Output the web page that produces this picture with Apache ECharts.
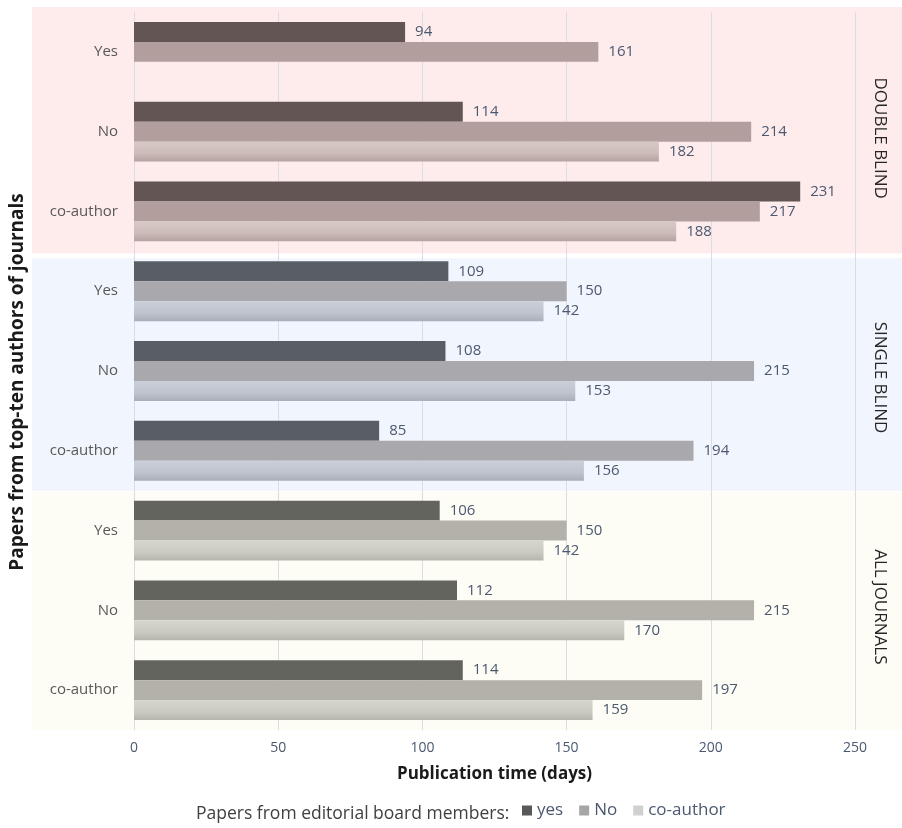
<!DOCTYPE html>
<html>
<head>
<meta charset="utf-8">
<script src="https://cdn.jsdelivr.net/npm/echarts@6/dist/echarts.min.js"></script>
<style>
  html, body { margin: 0; padding: 0; background: #ffffff; }
  #chart { width: 902px; height: 828px; }
</style>
</head>
<body>
<div id="chart"></div>
<script>
// Review types (one panel each) and the author groups inside every panel
const panels = ['DOUBLE BLIND', 'SINGLE BLIND', 'ALL JOURNALS'];
const groups = ['Yes', 'No', 'co-author'];

// Legend entries: papers from editorial board members
const seriesNames = ['yes', 'No', 'co-author'];

// Publication time in days, panel by panel (Yes, No, co-author)
const yesValues      = [94, 114, 231,   109, 108, 85,   106, 112, 114];
const noValues       = [161, 214, 217,  150, 215, 194,  150, 215, 197];
const coAuthorValues = [null, 182, 188, 142, 153, 156,  142, 170, 159];

// Value axis ticks
const xMin = 0, xMax = 250, xStep = 50;

// Styling
const panelFills = ['#fdeceb', '#f1f5fd', '#fdfdf6'];
const legendColors = ['#595959', '#a6a6a6', '#d0d0d0'];
const barPalettes = [
  { dark: '#635553', mid: '#b29f9d', light: ['#d8c9c7', '#cbbab8', '#b4a2a0'] },
  { dark: '#595d66', mid: '#a9a8ad', light: ['#cbcfd9', '#bfc3cd', '#aaaeb8'] },
  { dark: '#63645d', mid: '#b3b1aa', light: ['#d6d6ce', '#cacac2', '#b5b5ad'] }
];
const panelTitleShift = [8, 3, -4];
const textFont = '"Open Sans", "Noto Sans", sans-serif';

// Category ids keep each panel's rows distinct
const categoryIds = [];
panels.forEach((p, pi) => groups.forEach(g => categoryIds.push(pi + '|' + g)));

function buildData(values, kind) {
  return values.map((v, i) => {
    const pal = barPalettes[Math.floor(i / groups.length)];
    if (v === null) return '-';
    let color;
    if (kind === 'light') {
      color = new echarts.graphic.LinearGradient(0, 0, 0, 1, [
        { offset: 0, color: pal.light[0] },
        { offset: 0.6, color: pal.light[1] },
        { offset: 1, color: pal.light[2] }
      ]);
    } else {
      color = pal[kind];
    }
    return { value: v, itemStyle: { color: color } };
  });
}

const valueLabel = {
  show: true,
  position: 'right',
  distance: 10,
  color: '#4b5870',
  fontSize: 15,
  fontFamily: textFont
};

const chart = echarts.init(document.getElementById('chart'), null, { renderer: 'canvas' });

const option = {
  animation: false,
  backgroundColor: '#ffffff',
  grid: { left: 132, right: 47, top: 12, bottom: 98, containLabel: false },
  xAxis: {
    type: 'value',
    min: xMin, max: xMax, interval: xStep,
    name: 'Publication time (days)',
    nameLocation: 'middle',
    nameGap: 36,
    nameTextStyle: { color: '#1a1a1a', fontSize: 17, fontWeight: 'bold', fontFamily: textFont },
    axisLine: { show: false },
    axisTick: { show: false },
    axisLabel: { color: '#4b5870', fontSize: 14, margin: 11, fontFamily: textFont },
    splitLine: { show: true, lineStyle: { color: '#dcdce4', width: 1 } }
  },
  yAxis: {
    type: 'category',
    inverse: true,
    data: categoryIds,
    name: 'Papers from top-ten authors of journals',
    nameLocation: 'middle',
    nameGap: 107,
    nameTextStyle: {
      color: '#1a1a1a', fontSize: 19, fontWeight: 'bold', fontFamily: textFont,
      padding: [0, 22, 0, 0]
    },
    axisLine: { show: false },
    axisTick: { show: false },
    axisLabel: {
      color: '#595959', fontSize: 15, margin: 16, fontFamily: textFont,
      formatter: v => v.split('|')[1]
    },
    splitLine: { show: false }
  },
  legend: {
    data: seriesNames,
    left: 517,
    bottom: 4,
    icon: 'rect',
    itemWidth: 10,
    itemHeight: 10,
    itemGap: 16,
    textStyle: { color: '#4b5870', fontSize: 17, fontFamily: textFont }
  },
  series: [
    {
      name: seriesNames[0], type: 'bar', barGap: '0%', barCategoryGap: '25%',
      itemStyle: { color: legendColors[0] },
      label: valueLabel,
      data: buildData(yesValues, 'dark')
    },
    {
      name: seriesNames[1], type: 'bar', barGap: '0%', barCategoryGap: '25%',
      itemStyle: { color: legendColors[1] },
      label: valueLabel,
      data: buildData(noValues, 'mid')
    },
    {
      name: seriesNames[2], type: 'bar', barGap: '0%', barCategoryGap: '25%',
      itemStyle: { color: legendColors[2] },
      label: valueLabel,
      data: buildData(coAuthorValues, 'light')
    }
  ]
};

chart.setOption(option);

// Panel backgrounds and panel titles, placed from the category axis
function drawPanels() {
  const c0 = chart.convertToPixel({ yAxisIndex: 0 }, categoryIds[0]);
  const c1 = chart.convertToPixel({ yAxisIndex: 0 }, categoryIds[1]);
  const band = c1 - c0;
  const elements = [];
  const edgeTop = [-5, 7, 1];
  const edgeBottom = [2, 0, 0];
  panels.forEach((p, pi) => {
    const first = chart.convertToPixel({ yAxisIndex: 0 }, categoryIds[pi * groups.length]);
    const last = chart.convertToPixel({ yAxisIndex: 0 }, categoryIds[pi * groups.length + groups.length - 1]);
    const top = first - band / 2 + edgeTop[pi];
    const bottom = last + band / 2 + edgeBottom[pi];
    elements.push({
      type: 'rect', z: -10, silent: true,
      shape: { x: 32, y: top, width: 902 - 32, height: bottom - top },
      style: { fill: panelFills[pi] }
    });
    elements.push({
      type: 'text', z: 10, silent: true,
      x: 880, y: (top + bottom) / 2 + panelTitleShift[pi],
      rotation: -Math.PI / 2,
      style: {
        text: p, fill: '#262626', fontSize: 17, fontFamily: textFont,
        align: 'center', verticalAlign: 'middle'
      }
    });
  });
  elements.push({
    type: 'text', silent: true,
    x: 196, y: 814,
    style: {
      text: 'Papers from editorial board members:', fill: '#404040',
      fontSize: 17.5, fontFamily: textFont, align: 'left', verticalAlign: 'middle'
    }
  });
  chart.setOption({ graphic: { elements: elements } });
}
drawPanels();
</script>
</body>
</html>
